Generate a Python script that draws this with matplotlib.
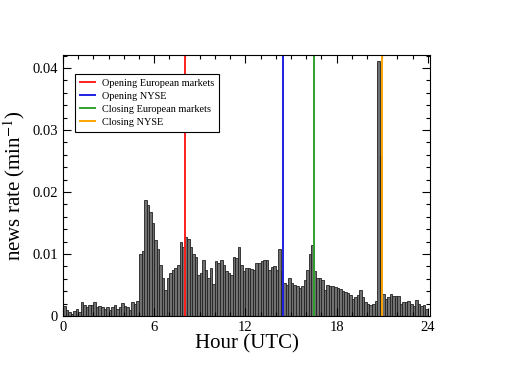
import numpy as np
import matplotlib
matplotlib.use("Agg")
import matplotlib.pyplot as plt
from matplotlib.ticker import MultipleLocator, FuncFormatter

# news rate per 10-minute bin (144 bins over 24 hours)
rate = [
    # 0-4h
    0.0016, 0.0010, 0.0006, 0.0004, 0.0008, 0.0012,
    0.0006, 0.0023, 0.0018, 0.0015, 0.0018, 0.0017,
    0.0023, 0.0015, 0.0016, 0.0015, 0.0012, 0.0015,
    0.0010, 0.0015, 0.0018, 0.0012, 0.0015, 0.0021,
    0.0016, 0.0014, 0.0010, 0.0022, 0.0020, 0.0024,
    # 5-9h
    0.0100, 0.0105, 0.0187, 0.0179, 0.0168, 0.0150,
    0.0122, 0.0108, 0.0082, 0.0062, 0.0042, 0.0062,
    0.0070, 0.0075, 0.0078, 0.0082, 0.0120, 0.0112,
    0.0127, 0.0124, 0.0112, 0.0100, 0.0096, 0.0066,
    0.0070, 0.0090, 0.0075, 0.0062, 0.0077, 0.0052,
    # 10-14h
    0.0088, 0.0086, 0.0090, 0.0083, 0.0072, 0.0070,
    0.0066, 0.0096, 0.0094, 0.0112, 0.0082, 0.0072,
    0.0077, 0.0077, 0.0076, 0.0074, 0.0085, 0.0086,
    0.0088, 0.0090, 0.0091, 0.0074, 0.0079, 0.0080,
    0.0074, 0.0108, 0.0073, 0.0053, 0.0050, 0.0061,
    # 15-19h
    0.0053, 0.0050, 0.0048, 0.0045, 0.0048, 0.0058,
    0.0074, 0.0100, 0.0114, 0.0072, 0.0061, 0.0062,
    0.0058, 0.0042, 0.0050, 0.0048, 0.0048, 0.0047,
    0.0045, 0.0044, 0.0040, 0.0038, 0.0037, 0.0034,
    0.0028, 0.0030, 0.0034, 0.0042, 0.0030, 0.0022,
    # 20-24h
    0.0020, 0.0018, 0.0020, 0.0024, 0.0411, 0.0258,
    0.0036, 0.0028, 0.0030, 0.0035, 0.0033, 0.0032,
    0.0033, 0.0020, 0.0022, 0.0022, 0.0024, 0.0019,
    0.0016, 0.0026, 0.0019, 0.0016, 0.0018, 0.0012,
]
bin_hours = 1 / 6
events = ["Opening European markets", "Opening NYSE",
          "Closing European markets", "Closing NYSE"]
event_hours = [8, 14.5, 16.5, 21]
event_colors = ["#ff2020", "#2020e0", "#30a030", "#ffa500"]

plt.rcParams["font.family"] = ["Liberation Serif", "DejaVu Serif"]
plt.rcParams["mathtext.fontset"] = "stix"

fig = plt.figure(figsize=(5.27, 3.72), dpi=100)
ax = fig.add_axes([0.1195, 0.1505, 0.6965, 0.7015])

edges = np.arange(len(rate)) * bin_hours
ax.bar(edges, rate, width=bin_hours, align="edge",
       color="#707070", edgecolor="#222222", linewidth=0.6)

for name, h, c in zip(events, event_hours, event_colors):
    ax.axvline(h, color=c, lw=1.4, label=name)

ax.set_xlim(0, 24.15)
ax.set_ylim(0, 0.0421)
ax.xaxis.set_major_locator(MultipleLocator(6))
ax.xaxis.set_minor_locator(MultipleLocator(1))
ax.yaxis.set_major_locator(MultipleLocator(0.01))
ax.yaxis.set_minor_locator(MultipleLocator(0.002))
ax.yaxis.set_major_formatter(FuncFormatter(lambda v, p: "0" if v == 0 else f"{v:.2f}"))
ax.tick_params(which="both", direction="in", top=True, right=True,
               labelsize=10.5, width=0.8)
ax.tick_params(which="major", length=6)
ax.tick_params(which="minor", length=3)
for s in ax.spines.values():
    s.set_linewidth(0.8)

ax.set_xlabel("Hour (UTC)", fontsize=15, labelpad=0)
ax.set_ylabel("news rate (min$^{-1}$)", fontsize=15, labelpad=4)

leg = ax.legend(loc="upper left", fontsize=7.4, handlelength=1.5,
                handletextpad=0.6, fancybox=False, edgecolor="black",
                framealpha=1, borderpad=0.45, labelspacing=0.38,
                bbox_to_anchor=(0.02, 0.948))
leg.get_frame().set_linewidth(0.8)

fig.savefig("out.png", dpi=100)
